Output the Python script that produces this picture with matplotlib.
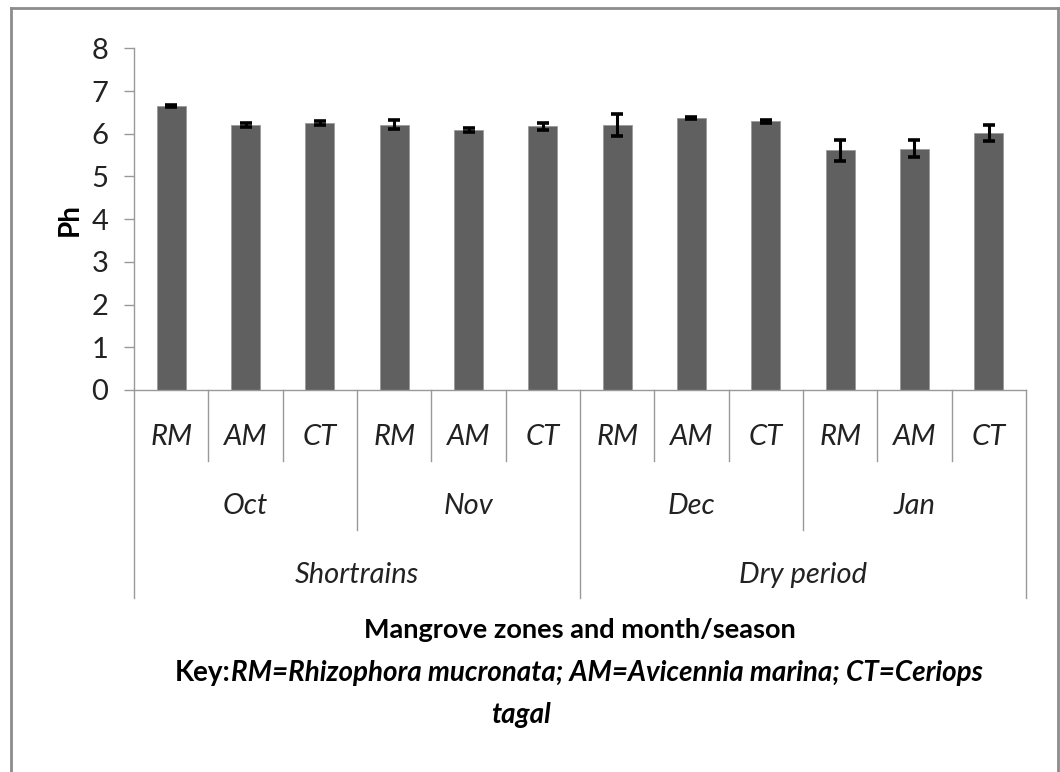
import matplotlib
matplotlib.use("Agg")
import matplotlib.pyplot as plt
from matplotlib.lines import Line2D
import numpy as np

zones = ["RM", "AM", "CT", "RM", "AM", "CT", "RM", "AM", "CT", "RM", "AM", "CT"]
months = ["Oct", "Nov", "Dec", "Jan"]
seasons = ["Shortrains", "Dry period"]
ph = [6.65, 6.21, 6.25, 6.21, 6.09, 6.17, 6.21, 6.37, 6.29, 5.61, 5.65, 6.01]
ph_err = [0.03, 0.05, 0.05, 0.10, 0.04, 0.09, 0.26, 0.02, 0.04, 0.24, 0.20, 0.19]

FONT = "Lato"
plt.rcParams['font.family'] = [FONT, 'DejaVu Sans']

W, H = 1060, 772
fig = plt.figure(figsize=(W / 100, H / 100), dpi=100)
fig.patch.set_facecolor("white")

x0, x1, y0, y8 = 134, 1026, 390, 48.3
ax = fig.add_axes([x0 / W, 1 - y0 / H, (x1 - x0) / W, (y0 - y8) / H])
n = len(ph)
x = np.arange(n)
ax.bar(x, ph, width=0.39, color="#606060", edgecolor="#9a9a9a", linewidth=0.6, zorder=2)
ax.errorbar(x, ph, yerr=ph_err, fmt="none", ecolor="black", elinewidth=2.2,
            capsize=4.3, capthick=2.6, zorder=3)
ax.set_xlim(-0.5, n - 0.5)
ax.set_ylim(0, 8)
ax.set_yticks(range(0, 9))
ax.tick_params(axis="y", direction="out", length=7.5, width=1, color="#999999",
               labelsize=21, pad=11, labelcolor="#222222")
ax.tick_params(axis="x", bottom=False, labelbottom=False)
for s in ["top", "right"]:
    ax.spines[s].set_visible(False)
for s in ["left", "bottom"]:
    ax.spines[s].set_color("#999999")
    ax.spines[s].set_linewidth(1)
ax.set_ylabel("Ph", fontsize=20, fontweight="bold", labelpad=6)

ppu = y0 - y8
def yf(p):
    return (y0 - p) / ppu

tr = ax.get_xaxis_transform()
lc = "#999999"
LS = 21
# zone level
for i in range(n + 1):
    if i % 3 == 0:
        continue
    ax.add_line(Line2D([i - 0.5, i - 0.5], [0, yf(461)], transform=tr, color=lc, lw=1, clip_on=False))
for i, z in enumerate(zones):
    ax.text(i, yf(437), z, transform=tr, ha="center", va="center", fontsize=LS, style="italic", color="#222222")
# month level
for m in range(len(months) + 1):
    if m % 2 == 0:
        continue
    xi = m * 3 - 0.5
    ax.add_line(Line2D([xi, xi], [0, yf(530)], transform=tr, color=lc, lw=1, clip_on=False))
for m, name in enumerate(months):
    ax.text(m * 3 + 1, yf(506), name, transform=tr, ha="center", va="center", fontsize=LS, style="italic", color="#222222")
# season level
for s in range(len(seasons) + 1):
    xi = s * 6 - 0.5
    ax.add_line(Line2D([xi, xi], [0, yf(598)], transform=tr, color=lc, lw=1, clip_on=False))
for s, name in enumerate(seasons):
    ax.text(s * 6 + 2.5, yf(575), name, transform=tr, ha="center", va="center", fontsize=LS, style="italic", color="#222222")

# axis title
fig.text(580 / W, 1 - 630 / H, "Mangrove zones and month/season", ha="center", va="center",
         fontsize=19.5, fontweight="bold")

# key line with mixed styles
fig.canvas.draw()
r = fig.canvas.get_renderer()
ky = 1 - 673 / H
KS = 20
t1 = fig.text(175 / W, ky, "Key:", ha="left", va="center", fontsize=KS, fontweight="bold")
bb = t1.get_window_extent(renderer=r)
fig.text(bb.x1 / W, ky, "RM=Rhizophora mucronata; AM=Avicennia marina; CT=Ceriops",
         ha="left", va="center", fontsize=KS, fontweight="bold", style="italic")
fig.text(521 / W, 1 - 715 / H, "tagal", ha="center", va="center", fontsize=KS,
         fontweight="bold", style="italic")

# outer frame (pixel coordinates of the picture border)
fc = "#8c8c8c"
frame = [((10.7, H), (10.7, 8.3)), ((10.7, 8.3), (1058, 8.3)), ((1058, 8.3), (1058, H))]
for (xa, ya), (xb, yb) in frame:
    fig.add_artist(Line2D([xa / W, xb / W], [1 - ya / H, 1 - yb / H],
                          transform=fig.transFigure, color=fc, lw=2))

fig.savefig("out.png", dpi=100)
